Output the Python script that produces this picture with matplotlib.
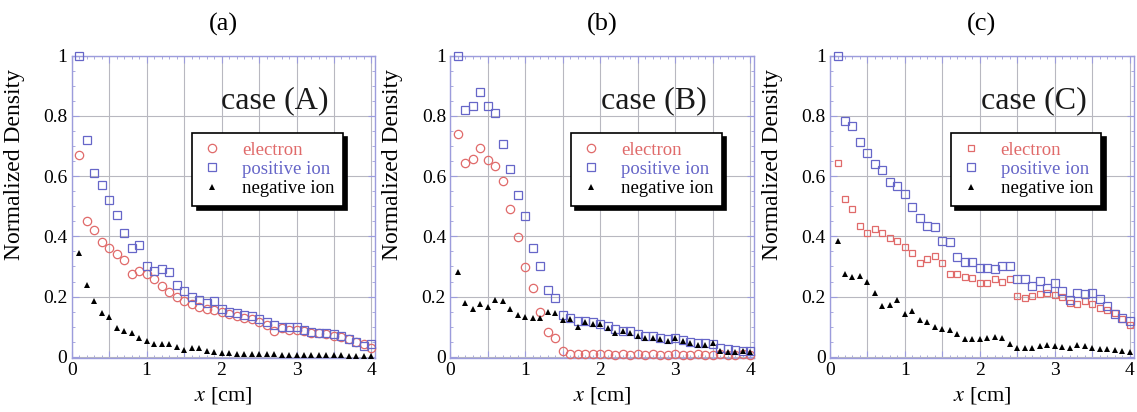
import matplotlib
matplotlib.use("Agg")
import matplotlib.pyplot as plt
from matplotlib.ticker import MultipleLocator

# measurement positions [cm]
x_cm = [0.1, 0.2, 0.3, 0.4, 0.5, 0.6, 0.7, 0.8, 0.9, 1.0,
        1.1, 1.2, 1.3, 1.4, 1.5, 1.6, 1.7, 1.8, 1.9, 2.0,
        2.1, 2.2, 2.3, 2.4, 2.5, 2.6, 2.7, 2.8, 2.9, 3.0,
        3.1, 3.2, 3.3, 3.4, 3.5, 3.6, 3.7, 3.8, 3.9, 4.0]

# case (A)
elec_a = [0.67, 0.45, 0.42, 0.38, 0.36, 0.34, 0.32, 0.275, 0.285, 0.275,
          0.26, 0.235, 0.215, 0.20, 0.185, 0.175, 0.165, 0.16, 0.155, 0.148,
          0.142, 0.137, 0.13, 0.125, 0.115, 0.105, 0.085, 0.095, 0.09, 0.09,
          0.085, 0.08, 0.078, 0.075, 0.07, 0.065, 0.058, 0.05, 0.042, 0.03]
pos_a = [1.0, 0.72, 0.61, 0.57, 0.52, 0.47, 0.41, 0.36, 0.37, 0.30,
         0.285, 0.29, 0.28, 0.24, 0.22, 0.20, 0.19, 0.18, 0.185, 0.16,
         0.15, 0.145, 0.14, 0.135, 0.125, 0.115, 0.105, 0.10, 0.10, 0.098,
         0.09, 0.082, 0.08, 0.08, 0.075, 0.068, 0.06, 0.05, 0.035, 0.042]
neg_a = [0.345, 0.24, 0.185, 0.147, 0.132, 0.097, 0.086, 0.08, 0.064, 0.052,
         0.042, 0.042, 0.042, 0.033, 0.022, 0.03, 0.028, 0.018, 0.015, 0.012,
         0.012, 0.01, 0.01, 0.009, 0.009, 0.008, 0.008, 0.007, 0.007, 0.006,
         0.006, 0.006, 0.005, 0.005, 0.005, 0.005, 0.004, 0.004, 0.004, 0.004]

# case (B)
elec_b = [0.74, 0.645, 0.656, 0.693, 0.653, 0.634, 0.584, 0.492, 0.398, 0.298,
          0.23, 0.15, 0.084, 0.064, 0.019, 0.01, 0.008, 0.008, 0.008, 0.008,
          0.008, 0.007, 0.008, 0.007, 0.008, 0.007, 0.008, 0.007, 0.007, 0.008,
          0.007, 0.007, 0.008, 0.007, 0.007, 0.008, 0.007, 0.007, 0.008, 0.007]
pos_b = [1.0, 0.82, 0.833, 0.88, 0.833, 0.81, 0.708, 0.623, 0.538, 0.468,
         0.36, 0.302, 0.221, 0.194, 0.14, 0.128, 0.12, 0.12, 0.115, 0.11,
         0.102, 0.092, 0.087, 0.085, 0.076, 0.07, 0.068, 0.064, 0.06, 0.062,
         0.055, 0.05, 0.046, 0.045, 0.042, 0.03, 0.026, 0.024, 0.02, 0.02]
neg_b = [0.282, 0.18, 0.16, 0.177, 0.167, 0.19, 0.185, 0.158, 0.139, 0.132,
         0.13, 0.13, 0.15, 0.145, 0.122, 0.125, 0.10, 0.114, 0.11, 0.108,
         0.097, 0.08, 0.085, 0.08, 0.07, 0.064, 0.062, 0.058, 0.054, 0.064,
         0.052, 0.045, 0.038, 0.038, 0.045, 0.018, 0.016, 0.015, 0.018, 0.016]

# case (C)
elec_c = [0.642, 0.523, 0.49, 0.435, 0.41, 0.424, 0.41, 0.393, 0.383, 0.363,
          0.346, 0.313, 0.324, 0.335, 0.313, 0.276, 0.274, 0.266, 0.261, 0.246,
          0.246, 0.257, 0.25, 0.257, 0.202, 0.196, 0.202, 0.207, 0.213, 0.205,
          0.20, 0.18, 0.174, 0.185, 0.174, 0.163, 0.155, 0.146, 0.124, 0.107]
pos_c = [1.0, 0.783, 0.767, 0.712, 0.678, 0.64, 0.62, 0.579, 0.567, 0.54,
         0.496, 0.46, 0.435, 0.43, 0.385, 0.38, 0.33, 0.315, 0.315, 0.294,
         0.296, 0.29, 0.30, 0.30, 0.257, 0.257, 0.235, 0.252, 0.228, 0.245,
         0.22, 0.19, 0.213, 0.207, 0.213, 0.191, 0.168, 0.141, 0.13, 0.12]
neg_c = [0.385, 0.274, 0.266, 0.269, 0.25, 0.213, 0.169, 0.172, 0.188, 0.143,
         0.152, 0.121, 0.114, 0.10, 0.092, 0.09, 0.075, 0.058, 0.058, 0.058,
         0.063, 0.066, 0.062, 0.044, 0.03, 0.03, 0.03, 0.035, 0.04, 0.037,
         0.032, 0.03, 0.038, 0.035, 0.03, 0.027, 0.025, 0.022, 0.02, 0.017]

panels = [("(a)", "case (A)", elec_a, pos_a, neg_a, "o"),
          ("(b)", "case (B)", elec_b, pos_b, neg_b, "o"),
          ("(c)", "case (C)", elec_c, pos_c, neg_c, "s")]

red = "#e06a6a"
blue = "#6666c8"
frame = "#9c9cdc"

plt.rcParams["font.family"] = ["Liberation Serif", "DejaVu Serif"]
plt.rcParams["mathtext.fontset"] = "stix"

fig = plt.figure(figsize=(11.37, 4.12), dpi=100)
lefts = [0.063, 0.396, 0.730]

for i, (title, case, el, po, ne, emark) in enumerate(panels):
    ax = fig.add_axes([lefts[i], 0.131, 0.267, 0.734])
    if emark == "o":
        ax.plot(x_cm, el, "o", ms=6, mfc="none", mec=red, mew=0.9,
                label="electron", clip_on=False, zorder=3)
    else:
        ax.plot(x_cm, el, "s", ms=5, mfc="none", mec=red, mew=0.9,
                label="electron", clip_on=False, zorder=3)
    ax.plot(x_cm, po, "s", ms=5.5, mfc="none", mec=blue, mew=0.9,
            label="positive ion", clip_on=False, zorder=3)
    ax.plot(x_cm, ne, "^", ms=4.5, color="black", mew=0,
            label="negative ion", clip_on=False, zorder=4)

    ax.set_xlim(0, 4.05)
    ax.set_ylim(-0.004, 1.0)
    ax.set_xticks([0, 0.5, 1, 1.5, 2, 2.5, 3, 3.5, 4])
    ax.set_xticklabels(["0", "", "1", "", "2", "", "3", "", "4"])
    ax.set_yticks([0, 0.2, 0.4, 0.6, 0.8, 1.0])
    ax.set_yticklabels(["0", "0.2", "0.4", "0.6", "0.8", "1"])
    ax.xaxis.set_minor_locator(MultipleLocator(0.1))
    ax.yaxis.set_minor_locator(MultipleLocator(0.05))
    ax.tick_params(which="both", direction="in", top=True, right=True,
                   color=frame, labelsize=14, pad=3)
    ax.tick_params(which="major", length=5)
    ax.tick_params(which="minor", length=2.5)
    ax.grid(True, which="major", color="#b8b8c0", lw=0.8)
    ax.set_axisbelow(True)
    for s in ax.spines.values():
        s.set_color(frame)
        s.set_linewidth(1.0)

    ax.set_xlabel(r"$x$ [cm]", fontsize=16, labelpad=4)
    ax.set_ylabel("Normalized Density", fontsize=17, labelpad=5)
    ax.yaxis.set_label_coords(-0.155, 0.64)
    ax.set_title(title, fontsize=19, pad=18)
    ax.text(0.67, 0.85, case, transform=ax.transAxes, ha="center",
            va="center", fontsize=23, color="#1a1a1a")

    leg = ax.legend(loc="upper right", bbox_to_anchor=(0.925, 0.775),
                    fontsize=13.5, handlelength=1.2, handletextpad=1.0,
                    labelspacing=0.12, borderpad=0.45, fancybox=False,
                    framealpha=1, edgecolor="black",
                    shadow={"ox": 3, "oy": -3, "color": "black", "alpha": 1})
    leg.get_frame().set_linewidth(1.2)
    for txt, c in zip(leg.get_texts(), [red, blue, "black"]):
        txt.set_color(c)

fig.savefig("out.png", dpi=100)
